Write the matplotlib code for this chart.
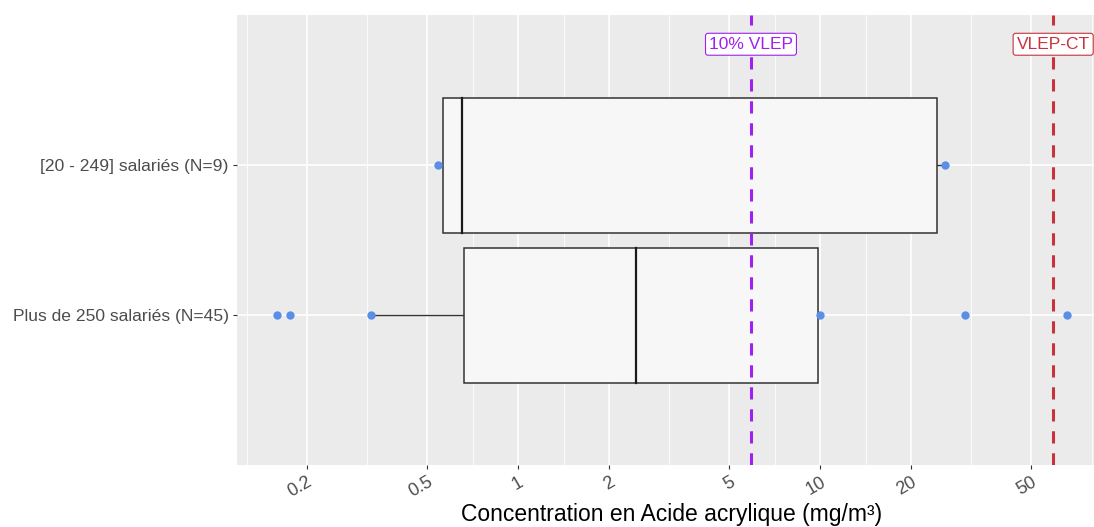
import numpy as np
import matplotlib.pyplot as plt
from matplotlib.patches import Rectangle

plt.rcParams['font.family'] = ['Liberation Sans', 'DejaVu Sans']

# groups, top to bottom
groups = ['[20 - 249] salariés (N=9)', 'Plus de 250 salariés (N=45)']
# box statistics (mg/m3): whisker low, Q1, median, Q3, whisker high
whisk_lo = [0.543, 0.326]
q1 = [0.565, 0.663]
med = [0.653, 2.46]
q3 = [24.4, 9.85]
whisk_hi = [25.9, 10.0]
# individual points drawn over the boxes
pts = [[0.543, 25.9], [0.159, 0.176, 0.326, 10.0, 30.2, 65.8]]

vlep10 = 5.9   # 10% VLEP
vlep_ct = 59   # VLEP-CT

breaks = [0.2, 0.5, 1, 2, 5, 10, 20, 50]
break_lbl = ['0.2', '0.5', '1', '2', '5', '10', '20', '50']

fig = plt.figure(figsize=(10.94, 5.27), dpi=100)
# panel runs a little past the right edge of the figure
ax = fig.add_axes([237/1094, 1-465/527, (1107-237)/1094, 450/527])
ax.set_facecolor('#EBEBEB')
ax.set_xscale('log')
ax.set_xlim(10**-0.930, 10**1.949)
ax.set_ylim(3, 0)

# grid: majors at the breaks, minors halfway between them in log space
lb = np.log10(breaks)
step = lb[1] - lb[0]
ext = np.concatenate([[lb[0]-step], lb, [lb[-1]+step]])
minors = (ext[:-1] + ext[1:]) / 2
for m in minors:
    ax.axvline(10**m, color='white', lw=0.6, zorder=0)
for b in breaks:
    ax.axvline(b, color='white', lw=1.2, zorder=0)
for y in [1, 2]:
    ax.axhline(y, color='white', lw=1.2, zorder=0)

hw = 0.45
for i in range(len(groups)):
    y = i + 1
    ax.plot([whisk_lo[i], q1[i]], [y, y], color='#333333', lw=1, zorder=2)
    ax.plot([q3[i], whisk_hi[i]], [y, y], color='#333333', lw=1, zorder=2)
    ax.add_patch(Rectangle((q1[i], y-hw), q3[i]-q1[i], 2*hw, facecolor='#F7F7F7',
                           edgecolor='#333333', lw=1.1, zorder=2))
    ax.plot([med[i], med[i]], [y-hw, y+hw], color='#1A1A1A', lw=1.6, zorder=3)
    ax.plot(pts[i], [y]*len(pts[i]), 'o', color='#5B8EE6', ms=6, mec='none', zorder=4)

ax.axvline(vlep10, color='#A020F0', lw=2.2, ls=(0, (4, 3.2)), zorder=5)
ax.axvline(vlep_ct, color='#C8323C', lw=2.2, ls=(0, (4, 3.2)), zorder=5)
ax.text(vlep10, 0.195, '10% VLEP', color='#A020F0', fontsize=12.5, ha='center', va='center', zorder=6,
        bbox=dict(boxstyle='round,pad=0.2,rounding_size=0.15', fc='white', ec='#A020F0', lw=0.8))
ax.text(vlep_ct, 0.195, 'VLEP-CT', color='#C8323C', fontsize=12.5, ha='center', va='center', zorder=6,
        bbox=dict(boxstyle='round,pad=0.2,rounding_size=0.15', fc='white', ec='#C8323C', lw=0.8))

ax.set_xticks(breaks)
ax.set_xticklabels(break_lbl, rotation=30, ha='right', rotation_mode='anchor')
ax.xaxis.set_minor_locator(plt.NullLocator())
ax.set_yticks([1, 2])
ax.set_yticklabels(groups)
ax.tick_params(axis='both', length=3, width=0.8, color='#333333', labelcolor='#4D4D4D',
               labelsize=12.6, pad=3)
ax.tick_params(axis='x', labelsize=13, pad=3)
for s in ax.spines.values():
    s.set_visible(False)
# axis title centred under the full panel
fig.text((237+1107)/2/1094, 1-515/527, 'Concentration en Acide acrylique (mg/m³)',
         fontsize=16.5, color='black', ha='center', va='center')

fig.savefig('out.png', dpi=100)
